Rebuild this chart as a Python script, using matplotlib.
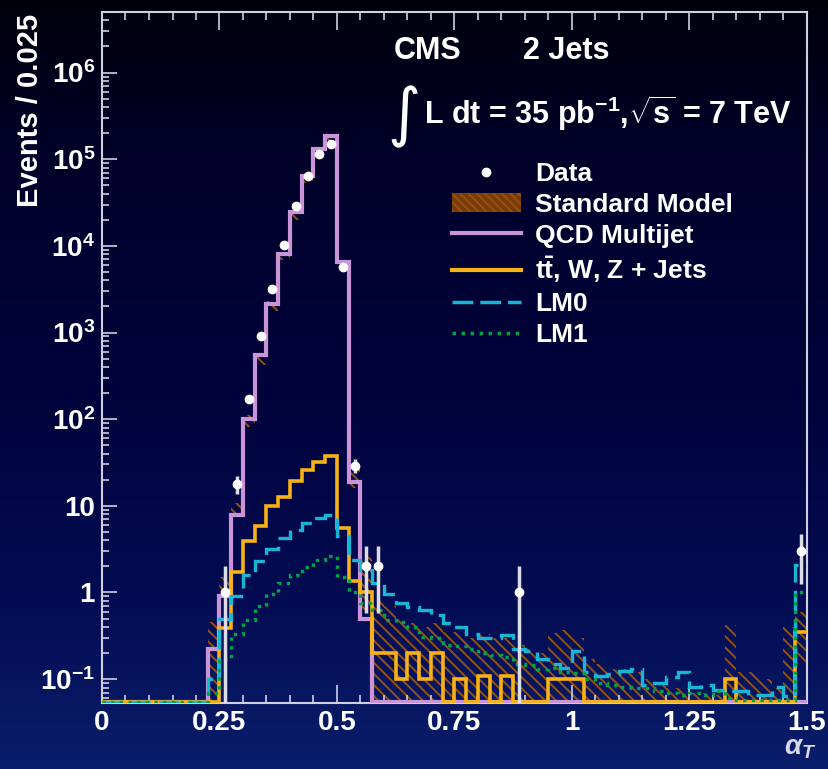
import numpy as np
import matplotlib.pyplot as plt
from matplotlib.lines import Line2D
from matplotlib.patches import Patch
from matplotlib.ticker import LogLocator, MultipleLocator, NullFormatter

plt.rcParams['font.family'] = ['Liberation Sans', 'DejaVu Sans']
plt.rcParams['font.weight'] = 'bold'
plt.rcParams['mathtext.fontset'] = 'custom'
plt.rcParams['mathtext.rm'] = 'Liberation Sans:bold'
plt.rcParams['mathtext.it'] = 'Liberation Sans:bold:italic'
plt.rcParams['mathtext.bf'] = 'Liberation Sans:bold'
plt.rcParams['hatch.linewidth'] = 1.4

# alpha_T bins of 0.025 from 0 to 1.5 (60 bins)
bin_width = 0.025

qcd = [0, 0, 0, 0, 0, 0, 0, 0, 0, 0.22,
       0.9, 7.8, 100, 545, 2150, 8100, 24400, 63500, 131000, 184000,
       6480, 19, 0.5, 0, 0, 0, 0, 0, 0, 0,
       0, 0, 0, 0, 0, 0, 0, 0, 0, 0,
       0, 0, 0, 0, 0, 0, 0, 0, 0, 0,
       0, 0, 0, 0, 0, 0, 0, 0, 0, 0]

ttw = [0, 0, 0, 0, 0, 0, 0, 0, 0, 0,
       0.39, 1.74, 3.9, 5.9, 10, 12.8, 19.5, 25.8, 32, 38,
       5.6, 1.35, 1.0, 0.2, 0.2, 0.1, 0.2, 0.1, 0.2, 0,
       0.1, 0, 0.11, 0, 0.11, 0, 0, 0, 0.1, 0.1,
       0.1, 0, 0, 0, 0, 0, 0, 0, 0, 0,
       0, 0, 0, 0.1, 0, 0, 0, 0, 0, 0.35]

lm0 = [0, 0, 0, 0, 0, 0, 0, 0, 0, 0.1,
       0.5, 0.9, 1.6, 2.3, 3.2, 4.3, 5.3, 6.3, 7.2, 7.8,
       4.5, 2.4, 1.8, 1.3, 0.95, 0.75, 0.68, 0.62, 0.55, 0.45,
       0.4, 0.33, 0.3, 0.3, 0.32, 0.22, 0.21, 0.17, 0.15, 0.135,
       0.21, 0.12, 0.11, 0.115, 0.125, 0.13, 0.086, 0.09, 0.107, 0.12,
       0.082, 0.086, 0.075, 0.073, 0.073, 0.066, 0.066, 0.082, 0.064, 2.1]

lm1 = [0, 0, 0, 0, 0, 0, 0, 0, 0, 0.07,
       0.17, 0.33, 0.48, 0.69, 0.97, 1.28, 1.59, 1.98, 2.36, 2.67,
       1.5, 1.0, 0.75, 0.63, 0.48, 0.46, 0.40, 0.31, 0.30, 0.25,
       0.24, 0.22, 0.2, 0.19, 0.18, 0.15, 0.145, 0.13, 0.134, 0.12,
       0.117, 0.1, 0.09, 0.086, 0.082, 0.079, 0.079, 0.072, 0.069, 0.066,
       0.069, 0.066, 0.072, 0.06, 0.058, 0.058, 0.058, 0.058, 0.058, 1.0]

sm_lo = [0, 0, 0, 0, 0, 0, 0, 0, 0, 0,
         0.95, 8.3, 82, 420, 1750, 6800, 20000, 53000, 110000, 155000,
         5500, 16, 0.6, 0, 0, 0, 0, 0, 0, 0,
         0, 0, 0, 0, 0, 0, 0, 0, 0, 0,
         0, 0, 0, 0, 0, 0, 0, 0, 0, 0,
         0, 0, 0, 0, 0, 0, 0, 0, 0, 0.15]

sm_hi = [0, 0, 0, 0, 0, 0, 0, 0, 0, 0.46,
         1.5, 10.8, 112, 580, 2300, 8600, 25500, 66000, 137000, 192000,
         6900, 30, 2.6, 0.8, 0.7, 0.5, 0.45, 0.4, 0.45, 0.35,
         0.35, 0.3, 0.33, 0.3, 0.3, 0.25, 0.22, 0.2, 0.34, 0.37,
         0.3, 0.17, 0.15, 0.13, 0.13, 0.12, 0.1, 0.09, 0.08, 0.08,
         0.07, 0.07, 0.065, 0.42, 0.12, 0.12, 0.1, 0.08, 0.4, 0.6]

data = [0, 0, 0, 0, 0, 0, 0, 0, 0, 0,
        1, 18, 173, 912, 3140, 10200, 28600, 64500, 115000, 150000,
        5690, 29, 2, 2, 0, 0, 0, 0, 0, 0,
        0, 0, 0, 0, 0, 1, 0, 0, 0, 0,
        0, 0, 0, 0, 0, 0, 0, 0, 0, 0,
        0, 0, 0, 0, 0, 0, 0, 0, 0, 3]

xticks = [0, 0.25, 0.5, 0.75, 1, 1.25, 1.5]
xticklabels = ['0', '0.25', '0.5', '0.75', '1', '1.25', '1.5']
yticks = [0.1, 1, 10, 1e2, 1e3, 1e4, 1e5, 1e6]
yticklabels = [r'$10^{-1}$', '1', '10', r'$10^{2}$', r'$10^{3}$',
               r'$10^{4}$', r'$10^{5}$', r'$10^{6}$']

qcd_c = '#c994d8'
ttw_c = '#f7b215'
lm0_c = '#18b6d6'
lm1_c = '#00a24a'
sm_c = '#96520f'
spine_c = '#cfcfe0'

edges = np.arange(len(qcd) + 1) * bin_width
centers = edges[:-1] + bin_width / 2
y_min, y_max = 0.053, 5e6
y_floor = 0.0548   # empty bins are drawn on the lower frame, like ROOT


def floor(v):
    v = np.asarray(v, dtype=float)
    return np.where(v > 0, v, y_floor)


fig = plt.figure(figsize=(8.29, 7.69), dpi=100)

# slide-like background gradient
bg = fig.add_axes([0, 0, 1, 1], zorder=-10)
rows = np.arange(769)
stops_y = [0, 150, 400, 600, 769]
stops_c = [(0, 0, 12), (0, 0, 40), (1, 3, 60), (3, 12, 82), (10, 30, 108)]
grad = np.stack([np.interp(rows, stops_y, [c[i] for c in stops_c]) for i in range(3)],
                axis=-1) / 255
bg.imshow(grad[:, None, :], aspect='auto', extent=[0, 1, 0, 1])
bg.axis('off')

ax = fig.add_axes([102 / 829, 66 / 769, 705 / 829, 691 / 769])
ax.set_facecolor('none')

ax.stairs(floor(sm_hi), edges, baseline=floor(sm_lo), fill=True, facecolor='none',
          edgecolor=sm_c, hatch='\\\\\\', lw=0, zorder=1)
ax.stairs(floor(qcd), edges, baseline=None, color=qcd_c, lw=3, zorder=3)
ax.stairs(floor(ttw), edges, baseline=None, color=ttw_c, lw=2.6, zorder=4)
ax.stairs(floor(lm0), edges, baseline=None, color=lm0_c, lw=2.4, ls=(0, (6, 2.5)), zorder=5)
ax.stairs(floor(lm1), edges, baseline=None, color=lm1_c, lw=2.4, ls=(0, (1, 1.6)), zorder=5)

d = np.asarray(data, dtype=float)
m = d > 0
err = np.sqrt(d[m])
err_lo = np.where(d[m] - err <= 0, d[m] - 0.02, err)
ax.errorbar(centers[m], d[m], yerr=[err_lo, err], fmt='o', color='white', ms=6,
            ecolor='#dcdce6', elinewidth=2.5, capsize=0, zorder=6)

ax.set_yscale('log')
ax.set_xlim(0, 1.5)
ax.set_ylim(y_min, y_max)
ax.set_xticks(xticks, xticklabels)
ax.xaxis.set_minor_locator(MultipleLocator(0.05))
ax.set_yticks(yticks, yticklabels)
ax.yaxis.set_minor_locator(LogLocator(base=10, subs=np.arange(2, 10)))
ax.yaxis.set_minor_formatter(NullFormatter())

ax.tick_params(which='both', direction='in', top=True, right=False, colors=spine_c,
               labelcolor='white', labelsize=20, width=1.2)
ax.tick_params(axis='x', which='major', length=13, pad=5)
ax.tick_params(axis='x', which='minor', length=6)
ax.tick_params(axis='y', which='major', length=11, pad=5)
ax.tick_params(axis='y', which='minor', length=5)
for s in ax.spines.values():
    s.set_color(spine_c)
    s.set_linewidth(1.5)

fig.text(30 / 829, 1 - 14 / 769, 'Events / 0.025', rotation=90, ha='center', va='top',
         fontsize=21, color='white')
fig.text(800 / 829, 1 - 748 / 769, r'$\alpha_{T}$', ha='center', va='center',
         fontsize=20, color='#d8d8e8')

fig.text(394 / 829, 1 - 51 / 769, 'CMS', fontsize=22, color='white', va='center')
fig.text(523 / 829, 1 - 51 / 769, '2 Jets', fontsize=22, color='white', va='center')
fig.text(404 / 829, 1 - 117 / 769, '\u222b', fontsize=46, color='white', ha='center',
         va='center', family='DejaVu Sans', weight='normal')
fig.text(424 / 829, 1 - 113 / 769, r'L dt = 35 pb$^{-1}$,$\sqrt{\mathrm{s}}$ = 7 TeV',
         fontsize=22, color='white', va='center')

handles = [
    Line2D([], [], marker='o', color='white', ls='none', ms=6),
    Patch(facecolor='#7a3a08', edgecolor=sm_c, hatch='\\\\\\\\', lw=0),
    Line2D([], [], color=qcd_c, lw=3),
    Line2D([], [], color=ttw_c, lw=3),
    Line2D([], [], color=lm0_c, lw=2.5, ls=(0, (6, 2))),
    Line2D([], [], color=lm1_c, lw=2.5, ls=(0, (1, 1.6))),
]
labels = ['Data', 'Standard Model', 'QCD Multijet', r'$\mathrm{t\bar{t}}$, W, Z + Jets',
          'LM0', 'LM1']
ax.legend(handles, labels, loc='upper left', bbox_to_anchor=(452 / 829, 1 - 162 / 769),
          bbox_transform=fig.transFigure, frameon=False, fontsize=19, labelcolor='white',
          handlelength=2.6, handletextpad=0.55, labelspacing=0.26, borderpad=0,
          borderaxespad=0)

fig.savefig('out.png', dpi=100)
